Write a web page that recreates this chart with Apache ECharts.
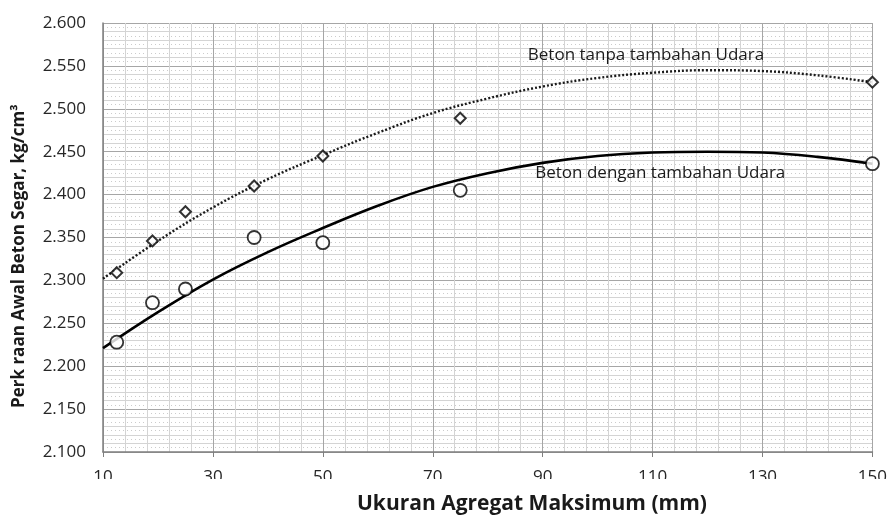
<!DOCTYPE html>
<html>
<head>
<meta charset="utf-8">
<script src="https://cdn.jsdelivr.net/npm/echarts@6/dist/echarts.min.js"></script>
<style>
html,body{margin:0;padding:0;background:#fff;}
#chart{width:890px;height:518px;}
</style>
</head>
<body>
<div id="chart"></div>
<script>
// Measured points (maximum aggregate size, mm)
const aggregateSizes = [12.5, 19, 25, 37.5, 50, 75, 150];
const densityNoAir = [2.309, 2.346, 2.380, 2.410, 2.445, 2.489, 2.531];
const densityWithAir = [2.228, 2.274, 2.290, 2.350, 2.344, 2.405, 2.436];

// Trend curves
const trendSizes = [10, 20, 30, 40, 50, 60, 70, 80, 90, 100, 110, 120, 130, 140, 150];
const trendNoAir = [2.302, 2.346, 2.385, 2.418, 2.446, 2.472, 2.495, 2.512, 2.526, 2.536, 2.542, 2.545, 2.544, 2.539, 2.531];
const trendWithAir = [2.221, 2.263, 2.301, 2.333, 2.361, 2.387, 2.409, 2.425, 2.437, 2.445, 2.449, 2.450, 2.449, 2.444, 2.436];

// Annotation labels
const labelNoAir = 'Beton tanpa tambahan Udara';
const labelWithAir = 'Beton dengan tambahan Udara';
const labelNoAirPos = [108.8, 2.5626];
const labelWithAirPos = [111.4, 2.4248];

const xTitle = 'Ukuran Agregat Maksimum (mm)';
const yTitle = 'Perk raan Awal Beton Segar, kg/cm³';

const FONT = 'Open Sans';

const chart = echarts.init(document.getElementById('chart'), null, {renderer: 'canvas'});

function pairs(xs, ys) { return xs.map((x, i) => [x, ys[i]]); }

const option = {
  animation: false,
  backgroundColor: '#ffffff',
  grid: {left: 103, right: 15, top: 23, bottom: 66},
  xAxis: {
    type: 'value', min: 10, max: 150, interval: 20,
    axisLine: {show: true, lineStyle: {color: '#7f7f7f', width: 1.5}},
    axisTick: {show: true, length: 5, lineStyle: {color: '#7f7f7f'}},
    axisLabel: {fontSize: 17, color: '#262626', fontFamily: FONT, margin: 17},
    splitLine: {show: true, lineStyle: {color: '#a6a6a6', width: 1}},
    minorTick: {show: true, splitNumber: 5, length: 0},
    minorSplitLine: {show: true, lineStyle: {color: '#d4d4d4', width: 1}}
  },
  yAxis: [{
    type: 'value', min: 2.1, max: 2.6, interval: 0.05,
    axisLine: {show: true, lineStyle: {color: '#7f7f7f', width: 1.5}},
    axisTick: {show: false},
    axisLabel: {fontSize: 17, color: '#262626', fontFamily: FONT, margin: 17,
      formatter: v => v.toFixed(3)},
    splitLine: {show: true, lineStyle: {color: '#a6a6a6', width: 1}},
    minorTick: {show: true, splitNumber: 5, length: 0},
    minorSplitLine: {show: true, lineStyle: {color: '#d4d4d4', width: 1}}
  }, {
    type: 'value', min: 2.1, max: 2.6, interval: 0.01, position: 'left',
    axisLine: {show: false}, axisTick: {show: false}, axisLabel: {show: false},
    splitLine: {show: false},
    minorTick: {show: true, splitNumber: 2, length: 0},
    minorSplitLine: {show: true, lineStyle: {color: '#cccccc', width: 1, type: [1, 3]}}
  }],
  series: [
    {
      type: 'line', name: 'trendNoAir', data: pairs(trendSizes, trendNoAir),
      smooth: 0.4, showSymbol: false, symbol: 'none',
      lineStyle: {color: '#1a1a1a', width: 2.4, type: [2, 2]},
      z: 3,
      markPoint: {
        symbol: 'circle', symbolSize: 0,
        label: {show: true, position: 'inside', color: '#1a1a1a', fontSize: 17, fontFamily: FONT},
        data: [{coord: labelNoAirPos, value: labelNoAir, label: {formatter: labelNoAir}}]
      }
    },
    {
      type: 'line', name: 'trendWithAir', data: pairs(trendSizes, trendWithAir),
      smooth: 0.4, showSymbol: false, symbol: 'none',
      lineStyle: {color: '#000000', width: 2.6},
      z: 3,
      markPoint: {
        symbol: 'circle', symbolSize: 0,
        label: {show: true, position: 'inside', color: '#1a1a1a', fontSize: 17, fontFamily: FONT},
        data: [{coord: labelWithAirPos, value: labelWithAir, label: {formatter: labelWithAir}}]
      }
    },
    {
      type: 'scatter', name: 'noAir', data: pairs(aggregateSizes, densityNoAir),
      symbol: 'diamond', symbolSize: [11, 11],
      itemStyle: {color: '#ffffff', borderColor: '#000000', borderWidth: 2},
      z: 5
    },
    {
      type: 'scatter', name: 'withAir', data: pairs(aggregateSizes, densityWithAir),
      symbol: 'circle', symbolSize: 13,
      itemStyle: {color: '#ffffff', borderColor: '#000000', borderWidth: 1.8},
      z: 5
    }
  ],
  graphic: [
    {type: 'rect', left: 60, top: 479, shape: {width: 830, height: 12}, style: {fill: '#ffffff'}, z: 100},
    {type: 'text', left: 357, top: 494, z: 101,
      style: {text: xTitle, fontSize: 21, fontWeight: 'bold', fill: '#1a1a1a', fontFamily: FONT}},
    {type: 'text', z: 101, rotation: Math.PI / 2, x: 11, y: 408,
      style: {text: yTitle, fontSize: 17, fontWeight: 'bold', fill: '#1a1a1a', fontFamily: FONT}}
  ]
};
chart.setOption(option);
</script>
</body>
</html>
